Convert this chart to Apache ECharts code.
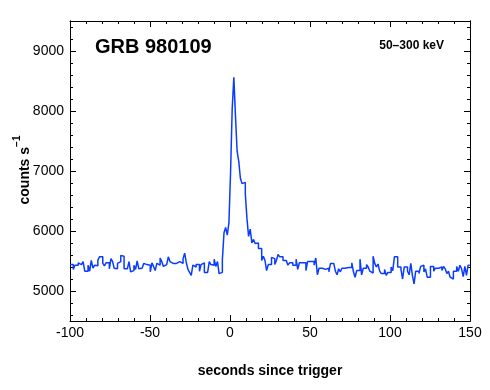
<!DOCTYPE html>
<html>
<head>
<meta charset="utf-8">
<script src="https://cdn.jsdelivr.net/npm/echarts@6/dist/echarts.min.js"></script>
<style>html,body{margin:0;padding:0;background:#fff;}#c{width:490px;height:390px;}</style>
</head>
<body>
<div id="c"></div>
<script>
// ---- data (counts per 1.024 s bin) ----
const binStart = -100;      // seconds since trigger of first bin
const binWidth = 1.024;     // seconds
const preBurst = [
  5440, 5440, 5360, 5430, 5430, 5470, 5440, 5440, 5490, 5330,
  5330, 5430, 5330, 5510, 5380, 5430, 5420, 5510, 5570, 5570,
  5460, 5420, 5470, 5470, 5370, 5540, 5490, 5380, 5370, 5460,
  5490, 5590, 5580, 5370, 5370, 5360, 5490, 5320, 5340, 5430,
  5360, 5500, 5370, 5380, 5380, 5460, 5440, 5470, 5430, 5320,
  5470, 5410, 5340, 5460, 5430, 5550, 5490, 5410, 5440, 5430,
  5570, 5490, 5460, 5440, 5460, 5480, 5490, 5510, 5460, 5540,
  5630, 5470, 5360, 5310, 5260, 5430, 5400, 5440, 5440, 5330,
  5440, 5470, 5310, 5310, 5310, 5490, 5440, 5430, 5530, 5410,
  5490, 5290, 5310
];
const burst = [
  5520, 5970, 6060, 5930, 6140, 6980, 8040, 8560, 7910, 7330,
  7160, 6880, 6790, 6810, 6620, 6210, 5910, 6030, 5800, 5860,
  5790, 5800, 5710, 5710, 5510, 5580, 5510, 5340, 5440, 5440,
  5560, 5540, 5440, 5510
];
const postBurst = [
  5610, 5570, 5570, 5510, 5510, 5510, 5430, 5470, 5470, 5430,
  5430, 5530, 5360, 5470, 5470, 5470, 5470, 5340, 5490, 5490,
  5460, 5490, 5430, 5550, 5270, 5380, 5380, 5360, 5360, 5330,
  5380, 5320, 5460, 5460, 5430, 5330, 5270, 5370, 5320, 5380,
  5380, 5390, 5390, 5390, 5390, 5470, 5320, 5230, 5340, 5340,
  5530, 5270, 5380, 5380, 5440, 5400, 5330, 5300, 5580, 5460,
  5400, 5450, 5330, 5290, 5290, 5360, 5260, 5310, 5310, 5400,
  5340, 5570, 5570, 5400, 5400, 5360, 5200, 5400, 5400, 5330,
  5270, 5460, 5260, 5120, 5330, 5330, 5290, 5410, 5430, 5320,
  5370, 5230, 5230, 5410, 5410, 5330, 5380, 5380, 5400, 5400,
  5340, 5410, 5370, 5290, 5330, 5230, 5200, 5330, 5330, 5410,
  5330, 5430, 5370, 5240, 5410, 5260, 5430
];
const xTicks = [-100, -50, 0, 50, 100, 150];
const yMajor = [5000, 6000, 7000, 8000, 9000];
const yMinor = [4600, 4800, 5200, 5400, 5600, 5800, 6200, 6400, 6600, 6800,
                7200, 7400, 7600, 7800, 8200, 8400, 8600, 8800, 9200, 9400];
const titleText = 'GRB 980109';
const bandText = '50–300 keV';
const xTitle = 'seconds since trigger';

// ---- build ----
const counts = preBurst.concat(burst, postBurst);
const data = counts.map((v, i) => [binStart + i * binWidth, v]);
data.push([binStart + counts.length * binWidth, counts[counts.length - 1]]);

const FONT = '"Liberation Sans", Arial, Helvetica, sans-serif';
const black = '#000';

function xAx(pos) {
  return {
    type: 'value', min: xTicks[0], max: xTicks[xTicks.length - 1], interval: 50,
    position: pos,
    axisLine: { show: true, onZero: false, lineStyle: { color: black, width: 1 } },
    axisTick: { show: true, inside: true, length: 6, lineStyle: { color: black } },
    minorTick: { show: true, splitNumber: 5, length: 3, lineStyle: { color: black } },
    splitLine: { show: false }, minorSplitLine: { show: false },
    axisLabel: { show: pos === 'bottom', color: black, fontSize: 14, fontFamily: FONT, margin: 5,
                 formatter: v => String(v) }
  };
}
function yAx(pos, ticks, len, labels) {
  return {
    type: 'value', min: 4500, max: 9500, position: pos,
    axisLine: { show: true, onZero: false, lineStyle: { color: black, width: 1 } },
    axisTick: { show: true, inside: true, length: len, customValues: ticks, lineStyle: { color: black } },
    splitLine: { show: false },
    axisLabel: labels ? { show: true, customValues: ticks, color: black, fontSize: 14, fontFamily: FONT, margin: 6,
                          formatter: v => String(v) } : { show: false }
  };
}

const chart = echarts.init(document.getElementById('c'), null, { renderer: 'canvas' });
chart.setOption({
  animation: false,
  backgroundColor: '#fff',
  grid: { left: 70, right: 20, top: 21, bottom: 69, containLabel: false },
  xAxis: [xAx('bottom'), xAx('top')],
  yAxis: [yAx('left', yMajor, 6, true), yAx('left', yMinor, 3, false),
          yAx('right', yMajor, 6, false), yAx('right', yMinor, 3, false)],
  series: [{
    type: 'line', step: 'end', data: data, xAxisIndex: 0, yAxisIndex: 0,
    showSymbol: false, symbol: 'none', clip: true,
    lineStyle: { color: '#0a3cff', width: 1.5 }
  }],
  graphic: [
    { type: 'text', left: 95, top: 37, style: { text: titleText, font: 'bold 20px ' + FONT, fill: black } },
    { type: 'text', right: 46, top: 40, style: { text: bandText, font: 'bold 12px ' + FONT, fill: black } },
    { type: 'text', x: 270, y: 371,
      style: { text: xTitle, font: 'bold 14px ' + FONT, fill: black,
               align: 'center', verticalAlign: 'middle', textAlign: 'center', textVerticalAlign: 'middle' } },
    { type: 'text', x: 22, y: 170, rotation: Math.PI / 2,
      style: {
        text: '{a|counts s}{b|−1}', align: 'center', verticalAlign: 'middle',
        textAlign: 'center', textVerticalAlign: 'middle', fill: black,
        rich: {
          a: { font: 'bold 14px ' + FONT, lineHeight: 20, verticalAlign: 'bottom', fill: black },
          b: { font: 'bold 10px ' + FONT, lineHeight: 12, verticalAlign: 'top', fill: black }
        }
      } }
  ]
});
</script>
</body>
</html>
